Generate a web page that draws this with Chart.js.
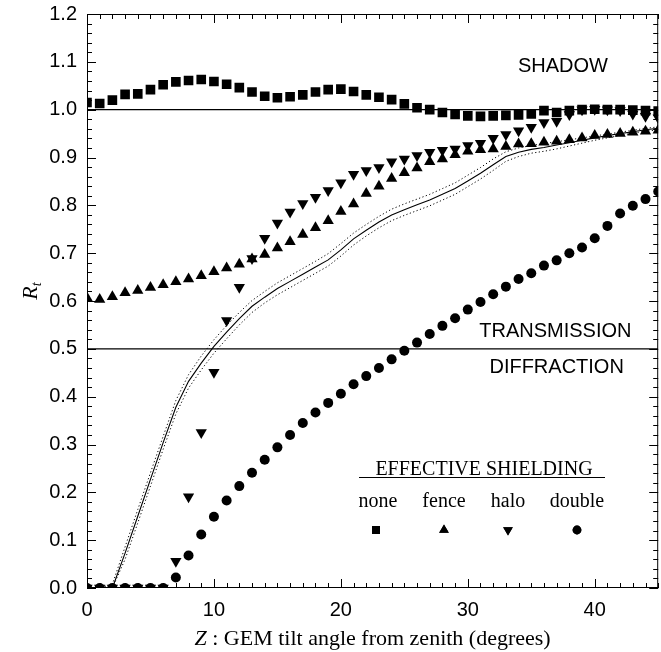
<!DOCTYPE html>
<html>
<head>
<meta charset="utf-8">
<script src="https://cdn.jsdelivr.net/npm/chart.js@4.4.0/dist/chart.umd.min.js"></script>
<style>
  html, body { margin: 0; padding: 0; background: #fff; overflow: hidden; }
</style>
</head>
<body>
<canvas id="chart" width="665" height="652"></canvas>
<script>
// tilt angle from zenith (degrees), one point per degree
const tiltAngles = [0, 1, 2, 3, 4, 5, 6, 7, 8, 9, 10, 11, 12, 13, 14, 15, 16, 17, 18, 19, 20, 21, 22,
  23, 24, 25, 26, 27, 28, 29, 30, 31, 32, 33, 34, 35, 36, 37, 38, 39, 40, 41, 42, 43, 44, 45];

// R_t for each shielding type
const noneValues = [1.015, 1.013, 1.020, 1.032, 1.033, 1.042, 1.052, 1.058, 1.061, 1.063, 1.059, 1.053,
  1.046, 1.037, 1.028, 1.025, 1.027, 1.031, 1.037, 1.042, 1.043, 1.038, 1.031, 1.026, 1.021, 1.012,
  1.004, 1.000, 0.994, 0.990, 0.987, 0.986, 0.987, 0.988, 0.989, 0.991, 0.998, 0.994, 0.998, 1.000,
  1.001, 1.000, 1.000, 0.999, 0.998, 0.997];
const fenceValues = [0.607, 0.603, 0.609, 0.617, 0.622, 0.628, 0.634, 0.640, 0.646, 0.653, 0.661, 0.669,
  0.677, 0.688, 0.697, 0.711, 0.724, 0.739, 0.753, 0.768, 0.787, 0.803, 0.825, 0.840, 0.856, 0.868,
  0.878, 0.891, 0.897, 0.906, 0.913, 0.916, 0.918, 0.923, 0.928, 0.929, 0.932, 0.934, 0.937, 0.941,
  0.946, 0.948, 0.950, 0.953, 0.955, 0.957];
const haloValues = [0, 0, 0, 0, 0, 0, 0, 0.056, 0.191, 0.325, 0.451, 0.559, 0.629, 0.689, 0.731, 0.763,
  0.786, 0.804, 0.817, 0.831, 0.847, 0.865, 0.873, 0.879, 0.891, 0.897, 0.904, 0.911, 0.915, 0.918,
  0.925, 0.930, 0.940, 0.948, 0.956, 0.963, 0.973, 0.976, 0.990, 1.000, 1.001, 1.000, 0.998, 0.991,
  0.986, 0.983];
const doubleValues = [0, 0, 0, 0, 0, 0, 0, 0.022, 0.068, 0.112, 0.149, 0.183, 0.213, 0.241, 0.268, 0.294,
  0.320, 0.345, 0.367, 0.387, 0.406, 0.426, 0.443, 0.460, 0.478, 0.496, 0.513, 0.531, 0.548, 0.564,
  0.582, 0.598, 0.614, 0.630, 0.646, 0.658, 0.674, 0.685, 0.700, 0.712, 0.731, 0.757, 0.783, 0.799,
  0.813, 0.829];

// model curve and its dotted error band
const modelValues = [0, 0, 0, 0.073, 0.150, 0.227, 0.304, 0.378, 0.432, 0.470, 0.505, 0.535, 0.563, 0.589,
  0.608, 0.626, 0.641, 0.656, 0.671, 0.686, 0.707, 0.730, 0.748, 0.765, 0.780, 0.791, 0.801, 0.811,
  0.823, 0.835, 0.851, 0.867, 0.885, 0.902, 0.911, 0.917, 0.921, 0.926, 0.931, 0.936, 0.941, 0.946,
  0.950, 0.954, 0.958, 0.961];
const modelUpper = [0, 0, 0.008, 0.086, 0.164, 0.241, 0.317, 0.392, 0.446, 0.485, 0.519, 0.549, 0.576, 0.601,
  0.620, 0.638, 0.653, 0.668, 0.683, 0.699, 0.720, 0.742, 0.760, 0.777, 0.792, 0.803, 0.813, 0.823,
  0.835, 0.847, 0.863, 0.879, 0.897, 0.912, 0.920, 0.925, 0.929, 0.933, 0.937, 0.941, 0.945, 0.949,
  0.953, 0.957, 0.961, 0.964];
const modelLower = [0, 0, 0, 0.060, 0.136, 0.213, 0.290, 0.364, 0.418, 0.456, 0.491, 0.521, 0.550, 0.576,
  0.596, 0.613, 0.628, 0.643, 0.658, 0.673, 0.694, 0.717, 0.736, 0.753, 0.768, 0.779, 0.789, 0.799,
  0.811, 0.823, 0.839, 0.855, 0.873, 0.892, 0.902, 0.909, 0.913, 0.918, 0.924, 0.930, 0.936, 0.941,
  0.946, 0.951, 0.955, 0.958];

// horizontal boundaries (shadow / transmission-diffraction)
const boundaryLevels = [1.0, 0.5];

const xTickLabels = [0, 10, 20, 30, 40];
const yTickLabels = ['0.0', '0.1', '0.2', '0.3', '0.4', '0.5', '0.6', '0.7', '0.8', '0.9', '1.0', '1.1', '1.2'];

const regionLabels = [
  { text: 'SHADOW', x: 37.5, y: 1.09 },
  { text: 'TRANSMISSION', x: 36.9, y: 0.536 },
  { text: 'DIFFRACTION', x: 37.0, y: 0.462 }
];
const legendNames = ['none', 'fence', 'halo', 'double'];

const SANS = '"Liberation Sans", Arial, sans-serif';
const SERIF = '"Liberation Serif", "Times New Roman", serif';

function pts(values) {
  return values.map((v, i) => ({ x: tiltAngles[i], y: v }));
}

function markerSet(label, values, style, radius, rotation) {
  return {
    label: label,
    data: pts(values),
    showLine: false,
    pointStyle: style,
    pointRadius: radius,
    pointHoverRadius: radius,
    pointRotation: rotation || 0,
    pointBackgroundColor: '#000',
    pointBorderColor: '#000',
    pointBorderWidth: 0,
    clip: 0,
    order: 1
  };
}

function curveSet(values, width, dash) {
  return {
    data: pts(values),
    showLine: true,
    borderColor: '#000',
    borderWidth: width,
    borderDash: dash,
    pointRadius: 0,
    tension: 0,
    clip: 0,
    order: 2
  };
}

const datasets = [];
boundaryLevels.forEach(level => {
  datasets.push({
    data: [{ x: tiltAngles[0], y: level }, { x: tiltAngles[tiltAngles.length - 1], y: level }],
    showLine: true, borderColor: '#000', borderWidth: 1.4, pointRadius: 0, clip: 0, order: 3
  });
});
datasets.push(curveSet(modelUpper, 1, [1.2, 2.4]));
datasets.push(curveSet(modelLower, 1, [1.2, 2.4]));
datasets.push(curveSet(modelValues, 1.1, []));
datasets.push(markerSet('none', noneValues, 'rect', 6.8));
datasets.push(markerSet('fence', fenceValues, 'triangle', 6.5));
datasets.push(markerSet('halo', haloValues, 'triangle', 6.5, 180));
datasets.push(markerSet('double', doubleValues, 'circle', 5));

// frame with inward ticks on all four sides, plus text
const framePlugin = {
  id: 'frame',
  afterDraw(chart) {
    const { ctx, chartArea: a, scales } = chart;
    const x = scales.x, y = scales.y;
    ctx.save();
    ctx.strokeStyle = '#000';
    ctx.lineWidth = 1;
    ctx.strokeRect(a.left + 0.5, a.top + 0.5, a.right - a.left - 1, a.bottom - a.top - 1);
    ctx.beginPath();
    for (let v = 0; v <= 45; v++) {
      const px = Math.round(x.getPixelForValue(v)) + 0.5;
      const len = v % 10 === 0 ? 9 : 5;
      ctx.moveTo(px, a.bottom); ctx.lineTo(px, a.bottom - len);
      ctx.moveTo(px, a.top); ctx.lineTo(px, a.top + len);
    }
    for (let k = 0; k <= 60; k++) {
      const py = Math.round(y.getPixelForValue(k * 0.02)) + 0.5;
      const len = k % 5 === 0 ? 9 : 5;
      ctx.moveTo(a.left, py); ctx.lineTo(a.left + len, py);
      ctx.moveTo(a.right, py); ctx.lineTo(a.right - len, py);
    }
    ctx.stroke();

    // region labels
    ctx.fillStyle = '#000';
    ctx.font = '20px ' + SANS;
    ctx.textAlign = 'center';
    ctx.textBaseline = 'middle';
    regionLabels.forEach(r => {
      ctx.fillText(r.text, x.getPixelForValue(r.x), y.getPixelForValue(r.y));
    });

    // legend block
    ctx.font = '20px ' + SERIF;
    ctx.textBaseline = 'alphabetic';
    ctx.fillText('EFFECTIVE SHIELDING', 484, 475);
    ctx.beginPath();
    ctx.moveTo(359, 477.5); ctx.lineTo(605, 477.5);
    ctx.lineWidth = 1;
    ctx.stroke();
    const legendX = [378, 444, 508, 577];
    legendNames.forEach((name, i) => {
      ctx.fillText(name, legendX[i], 507);
      const ds = chart.data.datasets.find(d => d.label === name);
      Chart.helpers.drawPoint(ctx, {
        pointStyle: ds.pointStyle,
        rotation: ds.pointRotation,
        radius: ds.pointStyle === 'circle' ? 4.4 : 5.6,
        borderWidth: 0
      }, legendX[i] - (i === 0 ? 2 : 0), 530);
      ctx.fill();
    });

    // axis titles
    ctx.textBaseline = 'alphabetic';
    ctx.textAlign = 'left';
    const italic = 'italic 22px ' + SERIF, roman = '22px ' + SERIF;
    const t1 = 'Z', t2 = ' : GEM tilt angle from zenith (degrees)';
    ctx.font = italic; const w1 = ctx.measureText(t1).width;
    ctx.font = roman; const w2 = ctx.measureText(t2).width;
    const cx = (a.left + a.right) / 2;
    let sx = cx - (w1 + w2) / 2;
    ctx.font = italic; ctx.fillText(t1, sx, 645);
    ctx.font = roman; ctx.fillText(t2, sx + w1, 645);

    ctx.translate(37, 290);
    ctx.rotate(-Math.PI / 2);
    ctx.font = italic;
    const rw = ctx.measureText('R').width;
    ctx.fillText('R', -rw / 2 - 3, 0);
    ctx.font = 'italic 14px ' + SERIF;
    ctx.fillText('t', rw / 2 - 3, 4);
    ctx.restore();
  }
};

new Chart(document.getElementById('chart'), {
  type: 'scatter',
  data: { datasets: datasets },
  options: {
    responsive: false,
    animation: false,
    layout: { padding: { top: 14, right: 3, left: 0, bottom: 0 } },
    plugins: { legend: { display: false }, tooltip: { enabled: false } },
    scales: {
      x: {
        type: 'linear',
        min: 0,
        max: 45,
        grid: { display: false, drawTicks: false },
        border: { display: false },
        afterBuildTicks: s => { s.ticks = xTickLabels.map(v => ({ value: v })); },
        afterFit: s => { s.height = 64; s.paddingLeft = 0; s.paddingRight = 0; },
        ticks: {
          padding: 10,
          color: '#000',
          font: { family: SANS, size: 20 },
          maxRotation: 0,
          callback: v => String(v)
        }
      },
      y: {
        type: 'linear',
        min: 0,
        max: 1.2,
        grid: { display: false, drawTicks: false },
        border: { display: false },
        afterBuildTicks: s => { s.ticks = yTickLabels.map(t => ({ value: parseFloat(t) })); },
        afterFit: s => { s.width = 87; s.paddingTop = 0; s.paddingBottom = 0; },
        ticks: {
          padding: 10,
          color: '#000',
          font: { family: SANS, size: 20 },
          callback: v => v.toFixed(1)
        }
      }
    }
  },
  plugins: [framePlugin]
});
</script>
</body>
</html>
